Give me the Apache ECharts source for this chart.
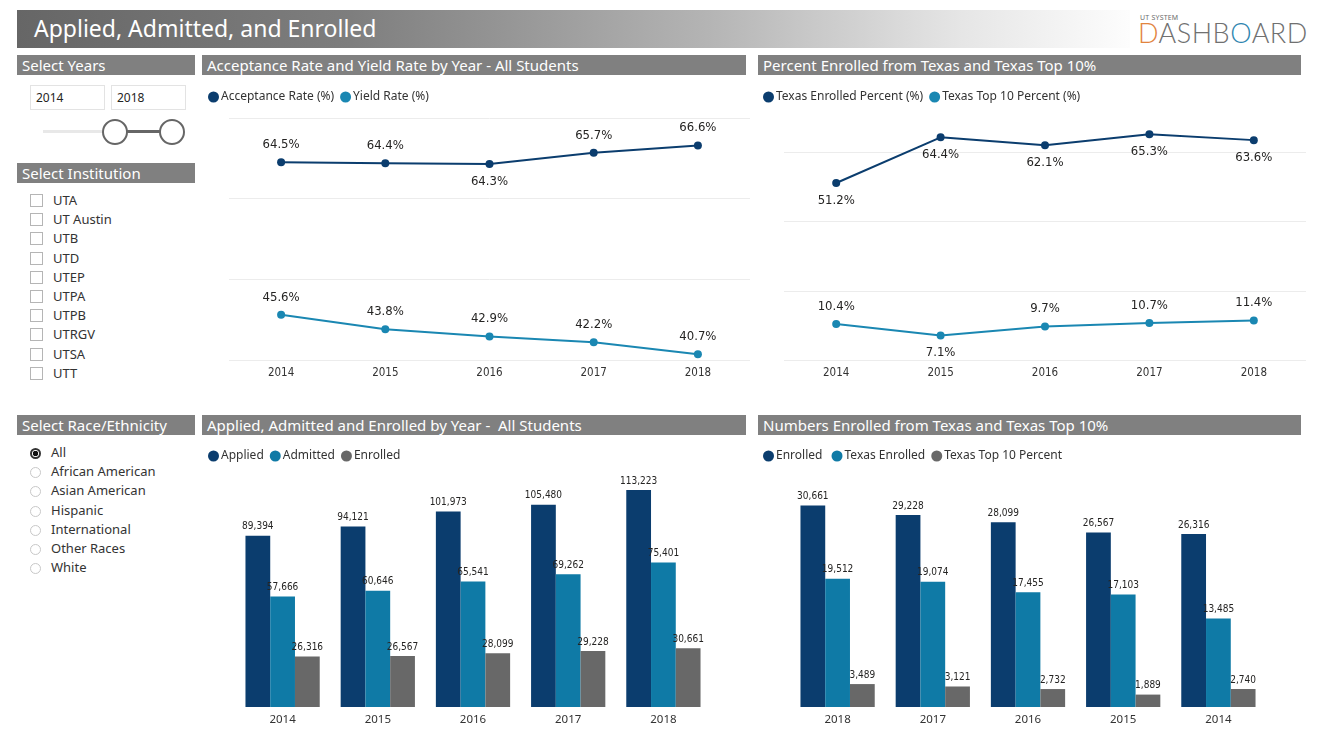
<!DOCTYPE html>
<html>
<head>
<meta charset="utf-8">
<script src="https://cdn.jsdelivr.net/npm/echarts@6/dist/echarts.min.js"></script>
<style>
  html, body { margin:0; padding:0; background:#fff; width:1328px; height:747px; overflow:hidden; }
  body { font-family: 'Segoe UI', 'Noto Sans', 'Open Sans', sans-serif; position:relative; }
  .abs { position:absolute; }
  .title { left:17px; top:10px; width:1113px; height:38px;
    background: linear-gradient(to right, #666 0%, #7e7e7e 30%, #b4b4b4 62%, #e6e6e6 85%, #fdfdfd 100%);
    color:#fff; font-size:23px; line-height:36px; padding-left:17px; box-sizing:border-box; }
  .hdr { background:#808080; color:#fff; font-size:15px; line-height:20px; height:20px; padding-left:5px; box-sizing:border-box; white-space:nowrap; }
  .ybox { border:1px solid #e3e3e3; height:25px; box-sizing:border-box; font-size:12px; color:#252423; line-height:23px; padding-left:5px; }
  .item { font-size:13px; color:#333; line-height:16px; white-space:nowrap; }
  .cb { display:inline-block; width:11px; height:11px; border:1px solid #b5b5b5; vertical-align:-2px; margin-right:10px; background:#fff; }
  .rb { display:inline-block; width:11px; height:11px; border:1px solid #c8c8c8; border-radius:50%; vertical-align:-2px; margin-right:10px; box-sizing:border-box; }
  .rb.on { border:2px solid #333; background: radial-gradient(circle, #111 0 2.5px, #fff 3px); }
  #chart { position:absolute; left:0; top:0; width:1328px; height:747px; z-index:2; }
</style>
</head>
<body>
<div class="abs title">Applied, Admitted, and Enrolled</div>
<div class="abs" style="left:1140px;top:13px;font-size:7px;color:#6d6d6d;letter-spacing:0.2px;">UT SYSTEM</div>
<div class="abs" style="left:1138px;top:16px;font-size:27px;color:#707070;font-weight:300;letter-spacing:0.5px;font-family:'Lato','Noto Sans',sans-serif;"><span style="color:#e2843e">D</span>ASHB<span style="color:#2f86b0">O</span>ARD</div>

<div class="abs hdr" style="left:17px;top:55px;width:178px;">Select Years</div>
<div class="abs hdr" style="left:202px;top:55px;width:544px;">Acceptance Rate and Yield Rate by Year - All Students</div>
<div class="abs hdr" style="left:758px;top:55px;width:543px;">Percent Enrolled from Texas and Texas Top 10%</div>
<div class="abs hdr" style="left:17px;top:163px;width:178px;">Select Institution</div>
<div class="abs hdr" style="left:17px;top:415px;width:178px;">Select Race/Ethnicity</div>
<div class="abs hdr" style="left:202px;top:415px;width:544px;">Applied, Admitted and Enrolled by Year -&nbsp; All Students</div>
<div class="abs hdr" style="left:758px;top:415px;width:543px;">Numbers Enrolled from Texas and Texas Top 10%</div>

<div class="abs ybox" style="left:30px;top:85px;width:75px;">2014</div>
<div class="abs ybox" style="left:111px;top:85px;width:75px;">2018</div>
<div class="abs" style="left:43px;top:130px;width:72px;height:3px;background:#e8e8e8;"></div>
<div class="abs" style="left:115px;top:130px;width:57px;height:3px;background:#666;"></div>
<div class="abs" style="left:102px;top:119px;width:22px;height:22px;border:2px solid #666;border-radius:50%;background:#fff;"></div>
<div class="abs" style="left:159px;top:119px;width:22px;height:22px;border:2px solid #666;border-radius:50%;background:#fff;"></div>

<div id="lists"></div>
<div id="chart"></div>

<script>
// ---------- data ----------
const years = ['2014', '2015', '2016', '2017', '2018'];
const acceptanceRate = [64.5, 64.4, 64.3, 65.7, 66.6];
const yieldRate = [45.6, 43.8, 42.9, 42.2, 40.7];
const texasEnrolledPct = [51.2, 64.4, 62.1, 65.3, 63.6];
const texasTop10Pct = [10.4, 7.1, 9.7, 10.7, 11.4];

const applied = [89394, 94121, 101973, 105480, 113223];
const admitted = [57666, 60646, 65541, 69262, 75401];
const enrolled = [26316, 26567, 28099, 29228, 30661];

const yearsDesc = ['2018', '2017', '2016', '2015', '2014'];
const enrolledDesc = [30661, 29228, 28099, 26567, 26316];
const texasEnrolled = [19512, 19074, 17455, 17103, 13485];
const texasTop10 = [3489, 3121, 2732, 1889, 2740];

const institutions = ['UTA', 'UT Austin', 'UTB', 'UTD', 'UTEP', 'UTPA', 'UTPB', 'UTRGV', 'UTSA', 'UTT'];
const races = ['All', 'African American', 'Asian American', 'Hispanic', 'International', 'Other Races', 'White'];

// ---------- slicer lists ----------
const lists = document.getElementById('lists');
institutions.forEach((t, i) => {
  const d = document.createElement('div');
  d.className = 'abs item';
  d.style.left = '30px';
  d.style.top = (192 + i * 19.2) + 'px';
  d.innerHTML = '<span class="cb"></span>' + t;
  lists.appendChild(d);
});
races.forEach((t, i) => {
  const d = document.createElement('div');
  d.className = 'abs item';
  d.style.left = '30px';
  d.style.top = (444 + i * 19.2) + 'px';
  d.innerHTML = '<span class="rb' + (i === 0 ? ' on' : '') + '"></span>' + t;
  lists.appendChild(d);
});

// ---------- styles ----------
const C_DARK = '#0b3d6e';
const C_MID = '#0f7aa6';
const C_LINE2 = '#1a87b2';
const C_GRAY = '#686868';
const uiFont = "'Segoe UI', 'Noto Sans', sans-serif";
const numFont = "'DejaVu Sans Condensed', 'Liberation Sans Narrow', sans-serif";

const acceptancePos = ['top', 'top', 'bottom', 'top', 'top'];
const yieldPos = ['top', 'top', 'top', 'top', 'top'];
const texEnrPos = ['bottom', 'bottom', 'bottom', 'bottom', 'bottom'];
const top10Pos = ['top', 'bottom', 'top', 'top', 'top'];

function pctData(vals, pos) {
  return vals.map((v, i) => ({ value: v, label: { position: pos[i] } }));
}

const pctLabel = {
  show: true, formatter: p => p.value.toFixed(1) + '%',
  fontFamily: numFont, fontSize: 13, color: '#252423', distance: 7
};
const numLabel = {
  show: true, position: 'top', distance: 4,
  formatter: p => p.value.toLocaleString('en-US'),
  fontFamily: numFont, fontSize: 10, color: '#252423'
};

function legend(left, top, names) {
  return {
    left: left, top: top, data: names, icon: 'circle', itemWidth: 11, itemHeight: 11,
    itemGap: 6, padding: 0,
    textStyle: { fontFamily: uiFont, fontSize: 12, color: '#333', padding: [0, 0, 0, -3] }
  };
}

function catAxis(idx, data, font) {
  return {
    type: 'category', gridIndex: idx, data: data,
    axisLine: { show: false }, axisTick: { show: false },
    axisLabel: { fontFamily: font, fontSize: 11.5, color: '#333', margin: 7 }
  };
}

const chart = echarts.init(document.getElementById('chart'), null, { renderer: 'canvas' });
chart.setOption({
  backgroundColor: 'transparent',
  animation: false,
  legend: [
    legend(208, 91, ['Acceptance Rate (%)', 'Yield Rate (%)']),
    legend(763, 91, ['Texas Enrolled Percent (%)', 'Texas Top 10 Percent (%)']),
    legend(208, 450, ['Applied', 'Admitted', 'Enrolled']),
    legend(763, 450, ['Enrolled ', 'Texas Enrolled', 'Texas Top 10 Percent'])
  ],
  grid: [
    { left: 229, right: 578, top: 118, bottom: 387 },
    { left: 784, right: 22, top: 118, bottom: 387 },
    { left: 235, right: 617, top: 477, bottom: 40 },
    { left: 790, right: 62, top: 477, bottom: 40 }
  ],
  xAxis: [
    catAxis(0, years, numFont),
    catAxis(1, years, numFont),
    catAxis(2, years, uiFont),
    catAxis(3, yearsDesc, uiFont)
  ],
  yAxis: [
    { type: 'value', gridIndex: 0, min: 40, max: 70, interval: 10, axisLabel: { show: false },
      axisLine: { show: false }, axisTick: { show: false },
      splitLine: { lineStyle: { color: '#ececec', width: 1 } } },
    { type: 'value', gridIndex: 1, min: 0, max: 70, interval: 20, axisLabel: { show: false },
      axisLine: { show: false }, axisTick: { show: false },
      splitLine: { showMaxLine: false, lineStyle: { color: '#ececec', width: 1 } } },
    { type: 'value', gridIndex: 2, min: 0, max: 120000, show: false, splitLine: { show: false } },
    { type: 'value', gridIndex: 3, min: 0, max: 35000, show: false, splitLine: { show: false } }
  ],
  series: [
    { name: 'Acceptance Rate (%)', type: 'line', xAxisIndex: 0, yAxisIndex: 0,
      data: pctData(acceptanceRate, acceptancePos), color: C_DARK,
      symbol: 'circle', symbolSize: 8, lineStyle: { width: 2 }, label: pctLabel },
    { name: 'Yield Rate (%)', type: 'line', xAxisIndex: 0, yAxisIndex: 0,
      data: pctData(yieldRate, yieldPos), color: C_LINE2,
      symbol: 'circle', symbolSize: 8, lineStyle: { width: 2 }, label: pctLabel },
    { name: 'Texas Enrolled Percent (%)', type: 'line', xAxisIndex: 1, yAxisIndex: 1,
      data: pctData(texasEnrolledPct, texEnrPos), color: C_DARK,
      symbol: 'circle', symbolSize: 8, lineStyle: { width: 2 }, label: pctLabel },
    { name: 'Texas Top 10 Percent (%)', type: 'line', xAxisIndex: 1, yAxisIndex: 1,
      data: pctData(texasTop10Pct, top10Pos), color: C_LINE2,
      symbol: 'circle', symbolSize: 8, lineStyle: { width: 2 }, label: pctLabel },

    { name: 'Applied', type: 'bar', xAxisIndex: 2, yAxisIndex: 2, data: applied, color: C_DARK,
      barGap: '0%', barCategoryGap: '22%', label: numLabel },
    { name: 'Admitted', type: 'bar', xAxisIndex: 2, yAxisIndex: 2, data: admitted, color: C_MID,
      barGap: '0%', barCategoryGap: '22%', label: numLabel },
    { name: 'Enrolled', type: 'bar', xAxisIndex: 2, yAxisIndex: 2, data: enrolled, color: C_GRAY,
      barGap: '0%', barCategoryGap: '22%', label: numLabel },

    { name: 'Enrolled ', type: 'bar', xAxisIndex: 3, yAxisIndex: 3, data: enrolledDesc, color: C_DARK,
      barGap: '0%', barCategoryGap: '22%', label: numLabel },
    { name: 'Texas Enrolled', type: 'bar', xAxisIndex: 3, yAxisIndex: 3, data: texasEnrolled, color: C_MID,
      barGap: '0%', barCategoryGap: '22%', label: numLabel },
    { name: 'Texas Top 10 Percent', type: 'bar', xAxisIndex: 3, yAxisIndex: 3, data: texasTop10, color: C_GRAY,
      barGap: '0%', barCategoryGap: '22%', label: numLabel }
  ]
});
</script>
</body>
</html>
